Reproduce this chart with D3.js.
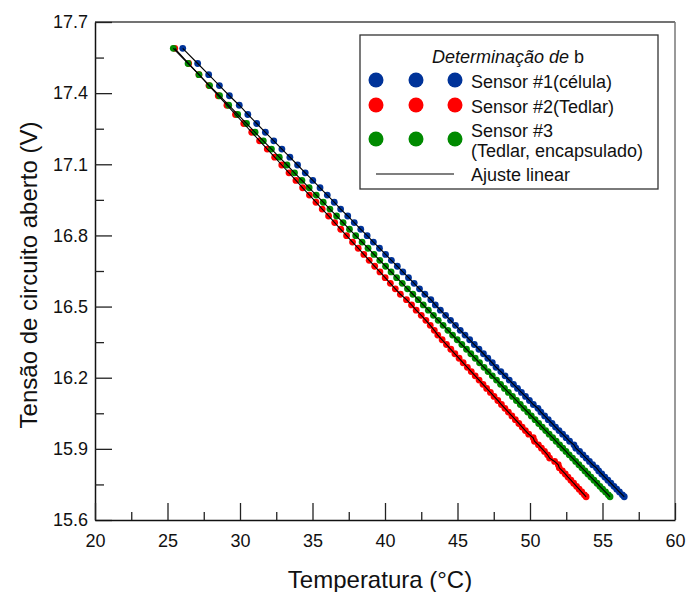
<!DOCTYPE html>
<html>
<head>
<meta charset="utf-8">
<script src="https://cdn.jsdelivr.net/npm/d3@7"></script>
<style>
  body { margin:0; background:#fff; }
  svg { font-family: "Liberation Sans", Arial, sans-serif; }
</style>
</head>
<body>
<svg id="chart" width="688" height="592"></svg>
<script>
// open-circuit voltage readings (shared by the three sensors)
var voltage = [17.589,17.525,17.478,17.432,17.389,17.349,17.310,17.272,17.235,17.199,17.164,17.130,17.097,17.064,17.032,17.001,16.970,16.940,16.911,16.882,16.854,16.826,16.799,16.772,16.746,16.720,16.695,16.670,16.646,16.622,16.598,16.575,16.552,16.529,16.507,16.485,16.463,16.442,16.421,16.400,16.380,16.360,16.340,16.320,16.301,16.282,16.263,16.244,16.226,16.208,16.190,16.172,16.155,16.138,16.121,16.104,16.087,16.071,16.055,16.039,16.023,16.007,15.992,15.977,15.962,15.947,15.932,15.917,15.903,15.889,15.875,15.861,15.847,15.833,15.820,15.807,15.794,15.781,15.768,15.755,15.742,15.730,15.718,15.706,15.698];

var tempSensor1 = [26.05,27.08,27.84,28.58,29.27,29.95,30.54,31.15,31.75,32.33,32.89,33.44,33.97,34.50,35.02,35.52,36.02,36.50,36.94,37.43,37.88,38.33,38.77,39.20,39.62,40.04,40.44,40.85,41.23,41.62,42.01,42.38,42.75,43.16,43.47,43.82,44.18,44.52,44.86,45.19,45.52,45.84,46.16,46.48,46.79,47.09,47.40,47.66,47.99,48.28,48.57,48.86,49.14,49.41,49.69,49.96,50.23,50.55,50.75,51.01,51.26,51.52,51.76,52.00,52.25,52.49,52.73,53.03,53.16,53.42,53.65,53.87,54.10,54.32,54.58,54.74,54.95,55.16,55.37,55.58,55.79,55.98,56.17,56.37,56.50];

var tempSensor2 = [25.50,26.46,27.17,27.86,28.50,29.10,29.69,30.26,30.81,31.35,31.88,32.39,32.88,33.38,33.86,34.32,34.79,35.24,35.67,36.11,36.53,36.95,37.35,37.76,38.15,38.54,38.91,39.29,39.65,40.01,40.37,40.71,41.06,41.48,41.83,42.15,42.50,42.82,43.12,43.40,43.64,43.94,44.24,44.54,44.82,45.11,45.39,45.68,45.95,46.22,46.49,46.76,47.01,47.27,47.52,47.78,48.03,48.27,48.51,48.75,48.99,49.23,49.46,49.68,49.91,50.22,50.31,50.58,50.79,51.00,51.21,51.35,51.70,51.95,52.02,52.23,52.43,52.62,52.82,53.01,53.21,53.39,53.57,53.75,53.87];

var tempSensor3 = [25.40,26.42,27.17,27.90,28.59,29.22,29.84,30.45,31.04,31.61,32.17,32.71,33.24,33.76,34.27,34.77,35.26,35.74,36.20,36.66,37.11,37.55,37.98,38.42,38.83,39.24,39.64,40.04,40.42,40.80,41.19,41.55,41.92,42.29,42.64,42.99,43.34,43.67,44.01,44.34,44.66,44.98,45.30,45.62,45.92,46.22,46.52,46.83,47.11,47.40,47.69,47.97,48.24,48.51,48.79,49.06,49.33,49.58,49.84,50.09,50.35,50.60,50.84,51.08,51.32,51.56,51.80,52.04,52.26,52.48,52.70,52.93,53.15,53.37,53.58,53.79,53.99,54.20,54.41,54.62,54.82,55.01,55.21,55.40,55.52];

var seriesNames = ['Sensor #1(célula)', 'Sensor #2(Tedlar)', 'Sensor #3'];
var seriesColors = ['#003399', '#ff0000', '#008a00'];
var xTicks = [20,25,30,35,40,45,50,55,60];
var xMinor = [22.5,27.5,32.5,37.5,42.5,47.5,52.5,57.5];
var yTicks = [15.6,15.9,16.2,16.5,16.8,17.1,17.4,17.7];
var yMinor = [15.75,16.05,16.35,16.65,16.95,17.25,17.55];

var margin = {top:22, right:13, bottom:72, left:95},
    width = 688 - margin.left - margin.right,
    height = 592 - margin.top - margin.bottom;

var svg = d3.select('#chart');
var g = svg.append('g').attr('transform','translate('+margin.left+','+margin.top+')');

var xScale = d3.scaleLinear().domain([20,60]).range([0,width]);
var yScale = d3.scaleLinear().domain([15.6,17.7]).range([height,0]);

var series = [tempSensor1, tempSensor2, tempSensor3].map(function(t,i){
    return {name: seriesNames[i], color: seriesColors[i], points: d3.zip(t, voltage)};
});

// frame (top / right)
g.append('line').attr('x1',0).attr('x2',width).attr('y1',0).attr('y2',0)
    .attr('stroke','#444').attr('stroke-width',1.5);
g.append('line').attr('x1',width).attr('x2',width).attr('y1',0).attr('y2',height)
    .attr('stroke','#777').attr('stroke-width',1.5);

// axes
g.append('g')
    .call(d3.axisLeft(yScale).tickValues(yTicks).tickSize(-17).tickSizeOuter(0).tickPadding(7).tickFormat(d3.format('.1f')));
g.append('g')
    .call(d3.axisLeft(yScale).tickValues(yMinor).tickSize(-9).tickFormat(''))
    .select('.domain').remove();
g.append('g').attr('transform','translate(0,'+height+')')
    .call(d3.axisBottom(xScale).tickValues(xTicks).tickSize(-17).tickSizeOuter(0).tickPadding(14));
g.append('g').attr('transform','translate(0,'+height+')')
    .call(d3.axisBottom(xScale).tickValues(xMinor).tickSize(-8).tickFormat(''))
    .select('.domain').remove();

g.selectAll('.tick line').attr('stroke','#222').attr('stroke-width',1.3);
g.selectAll('.domain').attr('stroke','#111').attr('stroke-width',1.5);
g.selectAll('.tick text').attr('font-size',18).attr('fill','#111')
    .attr('font-family','"Liberation Sans", Arial, sans-serif');

// data points
series.forEach(function(s){
    g.append('g').selectAll('circle')
        .data(s.points)
        .join('circle')
        .attr('cx', d => xScale(d[0]))
        .attr('cy', d => yScale(d[1]))
        .attr('r', 3.4)
        .attr('fill', s.color);
});

// linear fit lines
var line = d3.line().x(d => xScale(d[0])).y(d => yScale(d[1]));
series.forEach(function(s){
    g.append('path')
        .datum(s.points)
        .attr('d', line)
        .attr('fill','none')
        .attr('stroke','#000')
        .attr('stroke-width',1.1);
});

// axis titles
svg.append('text')
    .attr('x',380).attr('y',588)
    .attr('text-anchor','middle')
    .attr('font-size',24)
    .attr('fill','#111')
    .text('Temperatura (°C)');
svg.append('text')
    .attr('transform','rotate(-90)')
    .attr('x',-275).attr('y',37)
    .attr('text-anchor','middle')
    .attr('font-size',24)
    .attr('fill','#111')
    .text('Tensão de circuito aberto (V)');

// legend
var legend = svg.append('g').attr('font-size',18).attr('fill','#111');
legend.append('rect')
    .attr('x',360).attr('y',35).attr('width',298).attr('height',154)
    .attr('fill','#fff').attr('stroke','#333').attr('stroke-width',1.3);
var title = legend.append('text').attr('x',432).attr('y',63);
title.append('tspan').attr('font-style','italic').text('Determinação de ');
title.append('tspan').text('b');

var rowY = [80, 105, 139];
var dotX = [376, 416, 455];
series.forEach(function(s,i){
    legend.selectAll('.ldot'+i)
        .data(dotX)
        .join('circle')
        .attr('cx', d => d)
        .attr('cy', rowY[i])
        .attr('r', 7.5)
        .attr('fill', s.color);
});
legend.append('text').attr('x',471).attr('y',88).text(seriesNames[0]);
legend.append('text').attr('x',471).attr('y',113).text(seriesNames[1]);
legend.append('text').attr('x',471).attr('y',137).text(seriesNames[2]);
legend.append('text').attr('x',471).attr('y',157).text('(Tedlar, encapsulado)');
legend.append('line').attr('x1',376).attr('x2',454).attr('y1',174).attr('y2',174)
    .attr('stroke','#000').attr('stroke-width',1.2);
legend.append('text').attr('x',471).attr('y',181).text('Ajuste linear');
</script>
</body>
</html>
